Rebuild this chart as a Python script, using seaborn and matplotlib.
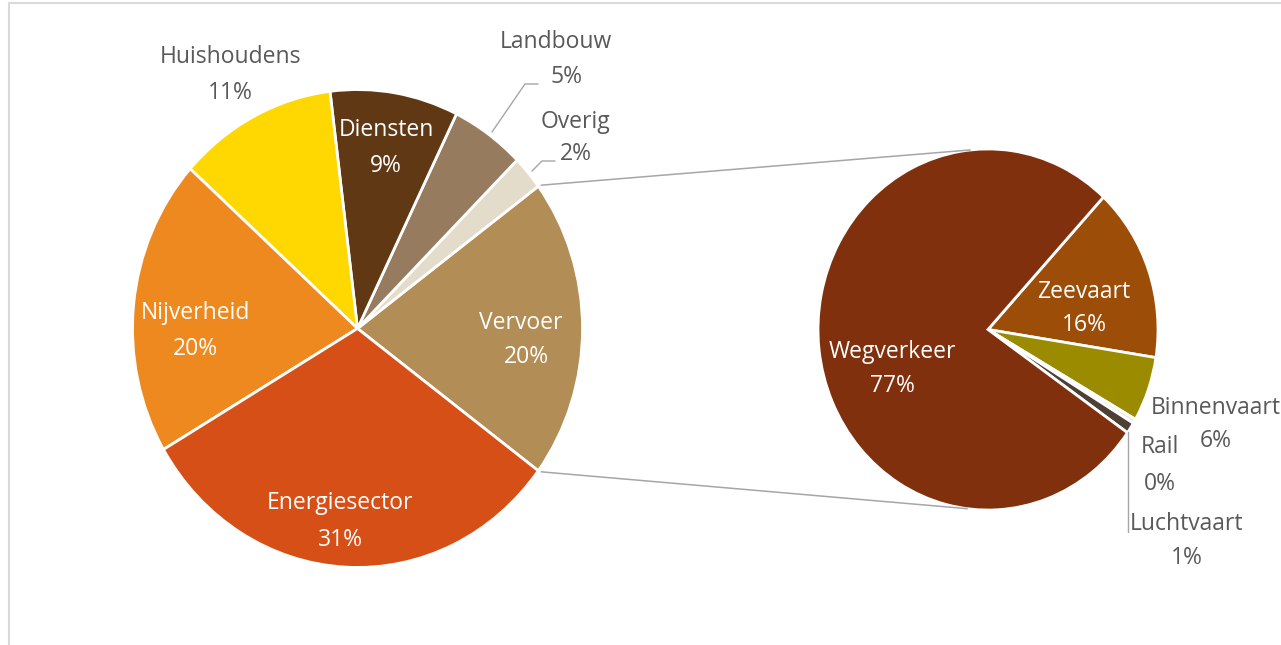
import matplotlib
matplotlib.use("Agg")
import matplotlib.pyplot as plt
import numpy as np
import seaborn as sns

sns.set_theme(style="white")
plt.rcParams['font.family'] = ['Open Sans', 'DejaVu Sans']

# ---------------- data ----------------
main_labels = ["Vervoer", "Overig", "Landbouw", "Diensten", "Huishoudens", "Nijverheid", "Energiesector"]
main_values = [20.3, 2.3, 5.3, 9.2, 11.4, 20.1, 31.4]
main_colors = ["#b28d55", "#e4dccb", "#977b5f", "#603814", "#fed800", "#ee8920", "#d64f17"]

sub_labels = ["Zeevaart", "Binnenvaart", "Rail", "Luchtvaart", "Wegverkeer"]
sub_values = [15.6, 5.8, 0.4, 1.0, 77.2]
sub_colors = ["#9c4e08", "#9a8b00", "#f3ece2", "#4f4035", "#80300c"]

W, H = 1281, 645
S = 1.062  # vertical stretch of the reference picture


def Y(py):
    return (H - py) / S


fig = plt.figure(figsize=(W / 100, H / 100), dpi=100)
ax = fig.add_axes([0, 0, 1, 1])

# main pie
c1 = (357.5, Y(328.5))
r1 = 225
start1 = -main_values[0] * 3.6 / 2
ax.pie(main_values, colors=main_colors, startangle=start1, counterclock=True,
       radius=r1, center=c1, frame=True,
       wedgeprops=dict(edgecolor="white", linewidth=2))

# sub pie
c2 = (988, Y(329.5))
r2 = 170
ax.pie(sub_values, colors=sub_colors, startangle=47.2, counterclock=False,
       radius=r2, center=c2, frame=True,
       wedgeprops=dict(edgecolor="white", linewidth=2))

ax.set_aspect("auto")
ax.set_xlim(0, W)
ax.set_ylim(0, H / S)
ax.axis("off")

# connector lines
a_top = np.deg2rad(main_values[0] * 3.6 / 2)
p1 = (c1[0] + r1 * np.cos(a_top), c1[1] + r1 * np.sin(a_top))
p2 = (c1[0] + r1 * np.cos(-a_top), c1[1] + r1 * np.sin(-a_top))
q1 = (c2[0] + r2 * np.cos(np.deg2rad(96)), c2[1] + r2 * np.sin(np.deg2rad(96)))
q2 = (c2[0] + r2 * np.cos(np.deg2rad(-97)), c2[1] + r2 * np.sin(np.deg2rad(-97)))
ax.plot([p1[0] + 3, q1[0]], [p1[1] + 1, q1[1]], color="#a6a6a6", lw=1.1)
ax.plot([p2[0] + 3, q2[0]], [p2[1] - 1, q2[1]], color="#a6a6a6", lw=1.1)

# labels
fs = 16.5
inside = "white"
outside = "#595959"


def lab(name_xy, pct_xy, name, val, color, ha="center"):
    ax.text(name_xy[0], Y(name_xy[1]), name, color=color, fontsize=fs,
            ha=ha, va="center")
    ax.text(pct_xy[0], Y(pct_xy[1]), f"{round(val):d}%", color=color,
            fontsize=fs, ha="center", va="center")


mv = dict(zip(main_labels, main_values))
sv = dict(zip(sub_labels, sub_values))

lab((521, 323), (526, 357), "Vervoer", mv["Vervoer"], inside)
lab((576, 122), (576, 154), "Overig", mv["Overig"], outside)
lab((556, 42), (566, 77), "Landbouw", mv["Landbouw"], outside)
lab((386, 130), (386, 166), "Diensten", mv["Diensten"], inside)
lab((230, 57), (230, 93), "Huishoudens", mv["Huishoudens"], outside)
lab((195, 313), (195, 349), "Nijverheid", mv["Nijverheid"], inside)
lab((340, 503), (340, 540), "Energiesector", mv["Energiesector"], inside)

lab((892, 352), (892, 386), "Wegverkeer", sv["Wegverkeer"], inside)
lab((1084, 292), (1084, 325), "Zeevaart", sv["Zeevaart"], inside)
lab((1151, 408), (1216, 441), "Binnenvaart", sv["Binnenvaart"], outside, ha="left")
lab((1160, 447), (1160, 484), "Rail", sv["Rail"], outside)
lab((1187, 524), (1187, 558), "Luchtvaart", sv["Luchtvaart"], outside)

# leader lines
lc = "#a6a6a6"
ax.plot([492, 525, 538], [Y(132), Y(84), Y(84)], color=lc, lw=1)
ax.plot([532, 542, 555], [Y(171), Y(161), Y(161)], color=lc, lw=1)
ax.plot([1128, 1128], [Y(432), Y(532)], color=lc, lw=1)

# frame of the chart area
ax.plot([9, 9, W], [0, Y(3), Y(3)], color="#d9d9d9", lw=1.5)

fig.savefig("out.png", dpi=100, facecolor="white")
